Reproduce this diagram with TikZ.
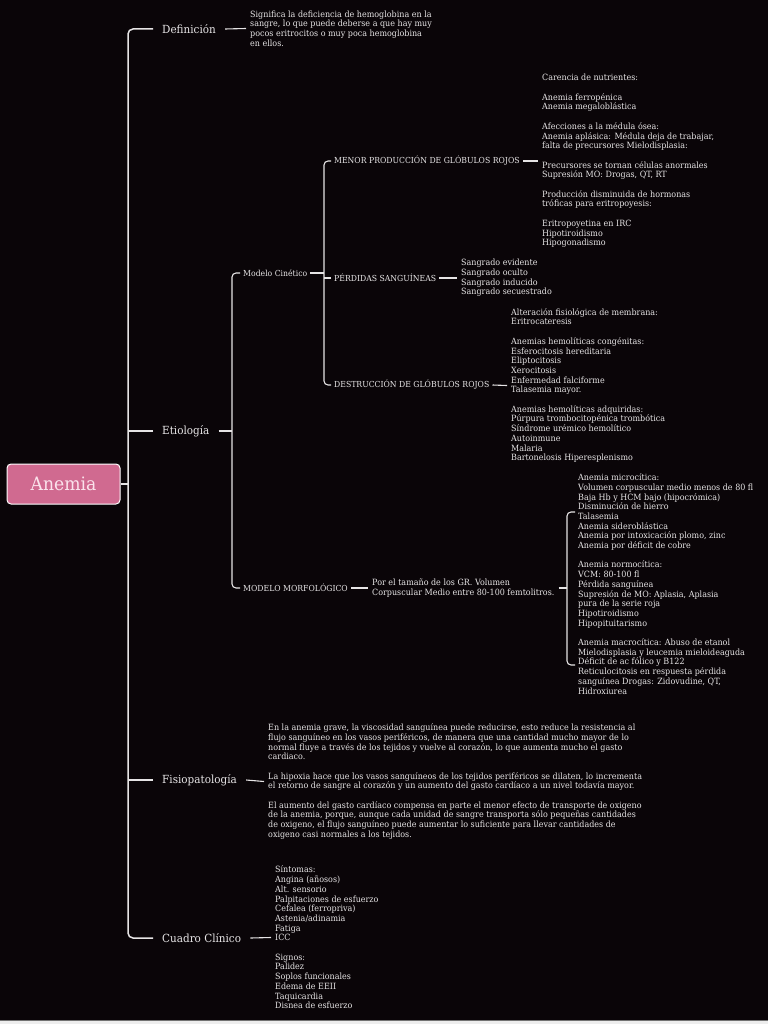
\documentclass[tikz,border=0pt]{standalone}
\usepackage{fontspec}
\setmainfont{DejaVu Serif}[FakeStretch=0.93]
\usetikzlibrary{positioning,calc}
\definecolor{cBg}     {HTML}{0A0508}
\definecolor{cLine}   {HTML}{E6E4E5}
\definecolor{cTxt}    {HTML}{E8E6E7}
\definecolor{cRoot}   {HTML}{D06A90}
\definecolor{cRootTxt}{HTML}{FBE3EC}
\tikzset{
  rootbox/.style={draw=white,fill=cRoot,text=cRootTxt,rounded corners=4pt,
                  line width=1pt,minimum width=113pt,minimum height=40pt,
                  font=\fontsize{18.5}{20}\selectfont},
  lvlA/.style   ={text=cTxt,inner xsep=9pt,inner ysep=1pt,anchor=west,
                  font=\fontsize{11.2}{13}\selectfont},
  lvlB/.style   ={text=cTxt,inner xsep=3pt,inner ysep=1pt,anchor=west,
                  font=\fontsize{8.3}{10}\selectfont},
  leaf/.style   ={text=cTxt,inner xsep=4pt,inner ysep=0pt,anchor=west,
                  align=left,font=\fontsize{8.6}{9.7}\selectfont},
  trunk/.style  ={draw=cLine,line width=1.5pt,rounded corners=5pt},
  twig/.style   ={draw=cLine,line width=1.1pt,rounded corners=4pt},
}

\begin{document}
\begin{tikzpicture}[x=1pt,y=-1pt]
\fill[cBg] (0,0) rectangle (768,1024);
\fill[black!55] (0,1020) rectangle (768,1021.3);
\fill[white!93!black] (0,1021.3) rectangle (768,1024);
\useasboundingbox (0,0) rectangle (768,1024);

% ---------------- root and first level ------------------------------------
\node[rootbox] (root) at (63.5,484) {Anemia};
\coordinate (sp1) at (128,0);
\coordinate (sp2) at (232,0);
\coordinate (sp3) at (324,0);
\coordinate (sp4) at (567,0);
\foreach \n/\y/\t in {def/29/Definición, etio/431/Etiología,
                      fisio/780/Fisiopatología, cuad/938/Cuadro Clínico}
  {\node[lvlA] (\n) at (153,\y) {\t};}
\draw[trunk] (def.west) -| (sp1 |- cuad.west) -- (cuad.west);
\foreach \n in {etio,fisio}{\draw[trunk] (\n.west) -- (\n.west -| sp1);}
\draw[trunk] (root.east) -- (root.east -| sp1);

% ---------------- Definición ----------------------------------------------
\node[leaf] (defT) at (246,28.5)
  {Significa la deficiencia de hemoglobina en la\\
   sangre, lo que puede deberse a que hay muy\\
   pocos eritrocitos o muy poca hemoglobina\\
   en ellos.};
\draw[twig] (def.east) -- (defT.west);

% ---------------- Etiología -----------------------------------------------
\node[lvlB] (cin)   at (240,273) {Modelo Cinético};
\node[lvlB] (morf)  at (240,588) {MODELO MORFOLÓGICO};
\node[lvlB] (menor) at (331,161) {MENOR PRODUCCIÓN DE GLÓBULOS ROJOS};
\node[lvlB] (perd)  at (331,278) {PÉRDIDAS SANGUÍNEAS};
\node[lvlB] (destr) at (331,385) {DESTRUCCIÓN DE GLÓBULOS ROJOS};
\draw[twig] (etio.east) -- (etio.east -| sp2);
\draw[twig] (cin.west) -| (sp2 |- morf.west) -- (morf.west);
\draw[twig] (cin.east) -- (cin.east -| sp3);
\draw[twig] (menor.west) -| (sp3 |- destr.west) -- (destr.west);
\draw[twig] (perd.west) -- (perd.west -| sp3);

\node[leaf] (menorT) at (538,161)
  {Carencia de nutrientes:\\[9.7pt]
   Anemia ferropénica\\
   Anemia megaloblástica\\[9.7pt]
   Afecciones a la médula ósea:\\
   Anemia aplásica: Médula deja de trabajar,\\
   falta de precursores Mielodisplasia:\\[9.7pt]
   Precursores se tornan células anormales\\
   Supresión MO: Drogas, QT, RT\\[9.7pt]
   Producción disminuida de hormonas\\
   tróficas para eritropoyesis:\\[9.7pt]
   Eritropoyetina en IRC\\
   Hipotiroidismo\\
   Hipogonadismo};
\node[leaf] (perdT) at (457,278)
  {Sangrado evidente\\
   Sangrado oculto\\
   Sangrado inducido\\
   Sangrado secuestrado};
\node[leaf] (destrT) at (507,385.5)
  {Alteración fisiológica de membrana:\\
   Eritrocateresis\\[9.7pt]
   Anemias hemolíticas congénitas:\\
   Esferocitosis hereditaria\\
   Eliptocitosis\\
   Xerocitosis\\
   Enfermedad falciforme\\
   Talasemia mayor.\\[9.7pt]
   Anemias hemolíticas adquiridas:\\
   Púrpura trombocitopénica trombótica\\
   Síndrome urémico hemolítico\\
   Autoinmune\\
   Malaria\\
   Bartonelosis Hiperesplenismo};
\node[leaf] (morfT) at (368,588)
  {Por el tamaño de los GR. Volumen\\
   Corpuscular Medio entre 80-100 femtolitros.};
\node[leaf,inner xsep=3pt] (microT) at (575,584)
  {Anemia microcítica:\\
   Volumen corpuscular medio menos de 80 fl\\
   Baja Hb y HCM bajo (hipocrómica)\\
   Disminución de hierro\\
   Talasemia\\
   Anemia sideroblástica\\
   Anemia por intoxicación plomo, zinc\\
   Anemia por déficit de cobre\\[9.7pt]
   Anemia normocítica:\\
   VCM: 80-100 fl\\
   Pérdida sanguínea\\
   Supresión de MO: Aplasia, Aplasia\\
   pura de la serie roja\\
   Hipotiroidismo\\
   Hipopituitarismo\\[9.7pt]
   Anemia macrocítica: Abuso de etanol\\
   Mielodisplasia y leucemia mieloideaguda\\
   Déficit de ac fólico y B122\\
   Reticulocitosis en respuesta pérdida\\
   sanguínea Drogas: Zidovudine, QT,\\
   Hidroxiurea};
\foreach \a/\b in {menor/menorT,perd/perdT,destr/destrT,morf/morfT}
  {\draw[twig] (\a.east) -- (\b.west);}
\coordinate (bt) at (575,512);
\coordinate (bb) at (575,665);
\draw[twig] (bt) -| (sp4 |- bb) -- (bb);
\draw[twig] (morfT.east) -- (morfT.east -| sp4);

% ---------------- Fisiopatología ------------------------------------------
\node[leaf] (fisioT) at (264,781.5)
  {En la anemia grave, la viscosidad sanguínea puede reducirse, esto reduce la resistencia al\\
   flujo sanguíneo en los vasos periféricos, de manera que una cantidad mucho mayor de lo\\
   normal fluye a través de los tejidos y vuelve al corazón, lo que aumenta mucho el gasto\\
   cardiaco.\\[9.7pt]
   La hipoxia hace que los vasos sanguíneos de los tejidos periféricos se dilaten, lo incrementa\\
   el retorno de sangre al corazón y un aumento del gasto cardíaco a un nivel todavía mayor.\\[9.7pt]
   El aumento del gasto cardíaco compensa en parte el menor efecto de transporte de oxigeno\\
   de la anemia, porque, aunque cada unidad de sangre transporta sólo pequeñas cantidades\\
   de oxigeno, el flujo sanguíneo puede aumentar lo suficiente para llevar cantidades de\\
   oxigeno casi normales a los tejidos.};
\draw[twig] (fisio.east) -- (fisioT.west);

% ---------------- Cuadro Clínico ------------------------------------------
\node[leaf] (cuadT) at (271,937.5)
  {Síntomas:\\
   Angina (añosos)\\
   Alt. sensorio\\
   Palpitaciones de esfuerzo\\
   Cefalea (ferropriva)\\
   Astenia/adinamia\\
   Fatiga\\
   ICC\\[9.7pt]
   Signos:\\
   Palidez\\
   Soplos funcionales\\
   Edema de EEII\\
   Taquicardia\\
   Disnea de esfuerzo};
\draw[twig] (cuad.east) -- (cuadT.west);
\end{tikzpicture}
\end{document}
